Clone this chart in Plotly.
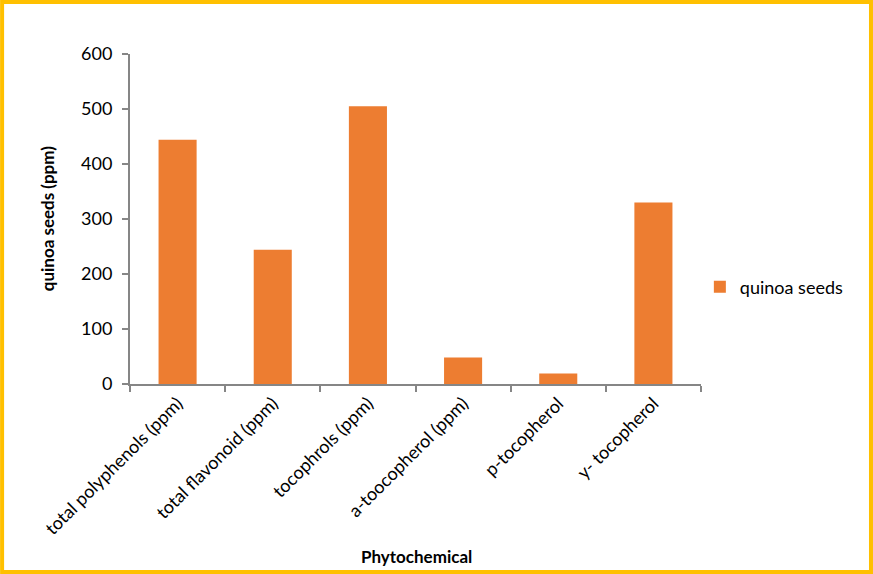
import plotly.graph_objects as go

categories = ["total polyphenols (ppm)", "total flavonoid (ppm)", "tocophrols (ppm)",
              "a-toocopherol (ppm)", "p-tocopherol", "y- tocopherol"]
values = [444, 244, 505, 48, 19, 330]
series_name = "quinoa seeds"
y_ticks = [0, 100, 200, 300, 400, 500, 600]

FONT = "Lato, Noto Sans, sans-serif"
AXIS = "#868686"

fig = go.Figure()
fig.add_trace(go.Bar(x=categories, y=values, name=series_name,
                     marker=dict(color="#ED7D31", line=dict(width=0)),
                     showlegend=True))

fig.update_layout(
    width=873, height=574,
    margin=dict(l=130, r=172, t=54, b=190),
    paper_bgcolor="white", plot_bgcolor="white",
    font=dict(family=FONT, size=18, color="#000000"),
    bargap=0.6,
    showlegend=True,
    legend=dict(x=0.998, y=0.294, xanchor="left", yanchor="middle",
                font=dict(size=18), bgcolor="rgba(0,0,0,0)"),
    xaxis=dict(showline=True, linecolor=AXIS, linewidth=2, ticks="outside",
               tickson="boundaries", ticklen=6, tickcolor=AXIS, tickwidth=2,
               tickangle=-45, showgrid=False, tickfont=dict(size=18)),
    yaxis=dict(range=[0, 600], tickvals=y_ticks, showline=True, linecolor=AXIS,
               linewidth=2, ticks="outside", ticklen=6, tickcolor=AXIS, tickwidth=2,
               showgrid=False, zeroline=False, tickfont=dict(size=18), ticklabelstandoff=6),
    annotations=[
        dict(text="<b>Phytochemical</b>", xref="paper", yref="paper",
             x=0.501, y=-0.524, showarrow=False, font=dict(size=17),
             xanchor="center", yanchor="middle"),
        dict(text="<b>quinoa seeds (ppm)</b>", xref="paper", yref="paper",
             x=-0.145, y=0.5, showarrow=False, font=dict(size=17), textangle=-90,
             xanchor="center", yanchor="middle"),
    ],
    shapes=[dict(type="rect", xref="paper", yref="paper",
                 x0=-0.224, x1=1.2977, y0=-0.5697, y1=1.1576,
                 line=dict(color="#FFC000", width=4))],
)

fig.write_html("out.html", config={"displayModeBar": False},
               post_script="document.body.style.margin='0';document.body.style.padding='0';")
